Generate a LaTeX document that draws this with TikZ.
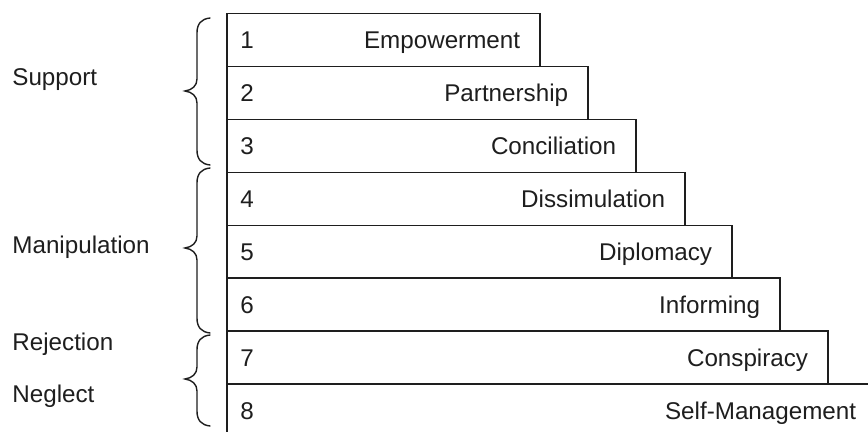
\documentclass[tikz,border=0pt]{standalone}
\usepackage{fontspec}
\setmainfont{Liberation Sans}
\usetikzlibrary{calc}
\definecolor{ink}{HTML}{1E1E1E}
\tikzset{
  bar/.style={draw=ink, line width=0.75pt, rectangle, inner sep=0pt, minimum height=26.45pt, anchor=north west},
  num/.style={text=ink, inner sep=0pt, anchor=base west, font=\fontsize{12.1pt}{14pt}\selectfont},
  lbl/.style={text=ink, inner sep=0pt, anchor=base east, font=\fontsize{12.1pt}{14pt}\selectfont},
  grp/.style={text=ink, inner sep=0pt, anchor=base west, font=\fontsize{12.1pt}{14pt}\selectfont},
  bracestyle/.style={draw=ink, line width=0.7pt, line cap=round}
}
\begin{document}
\begin{tikzpicture}[x=0.5pt,y=-0.5pt]
\useasboundingbox (0,0) rectangle (868,432);
\clip (0,0) rectangle (868,432);
\fill[white] (0,0) rectangle (868,432);
% bars
\foreach \i/\w/\t in {1/313/Empowerment,2/361/Partnership,3/409/Conciliation,4/458/Dissimulation,5/505/Diplomacy,6/553/Informing,7/601/Conspiracy,8/649/Self-Management}{
  \node[bar, minimum width=\w*0.5pt] (b\i) at (226,{13+(\i-1)*52.9}) {};
  \node[num] (n\i) at ($(b\i.west)+(14,8.7)$) {\i};
  \node[lbl] (l\i) at ($(b\i.east)+(-20,8.7)$) {\t};
}
% group labels
\node[grp] (support) at (12,86) {Support};
\node[grp] (manip) at (12,254) {Manipulation};
\node[grp] (reject) at (12,351) {Rejection};
\node[grp] (neglect) at (12,403) {Neglect};
% braces
\draw[bracestyle] (210,18) .. controls (201,19) and (197,24) .. (197,33) -- (197,79)
  .. controls (197,86) and (192,90) .. (185,91) .. controls (192,92) and (197,96) .. (197,103)
  -- (197,150) .. controls (197,159) and (201,164) .. (210,165);
\draw[bracestyle] (210,168) .. controls (201,169) and (197,174) .. (197,183) -- (197,236)
  .. controls (197,243) and (192,247) .. (185,248) .. controls (192,249) and (197,253) .. (197,260)
  -- (197,318) .. controls (197,327) and (201,332) .. (210,333);
\draw[bracestyle] (210,335) .. controls (201,336) and (197,341) .. (197,350) -- (197,367)
  .. controls (197,374) and (192,378) .. (185,379) .. controls (192,380) and (197,384) .. (197,391)
  -- (197,411) .. controls (197,420) and (201,425) .. (210,426);
\end{tikzpicture}
\end{document}
